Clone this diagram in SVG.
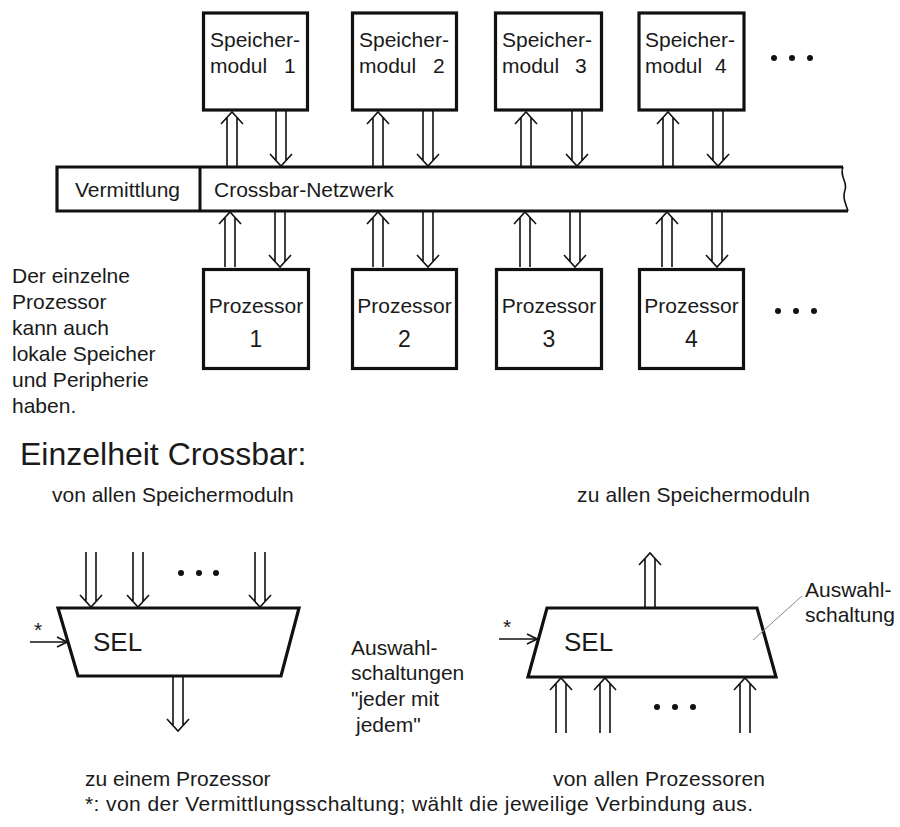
<svg xmlns="http://www.w3.org/2000/svg" xmlns:xlink="http://www.w3.org/1999/xlink" width="900" height="827" viewBox="0 0 900 827">
  <style>
    text { font-family: "Liberation Sans", Arial, sans-serif; fill: #1a1a1a; }
    .box { fill: #fff; stroke: #111; stroke-width: 3.2; }
    .t21 { font-size: 21px; }
    .num { font-size: 23px; }
    .sel { font-size: 26px; }
    .big { font-size: 32px; }
    .arr { fill: none; stroke: #111; stroke-width: 1.6; stroke-linejoin: miter; }
    .thin { fill: none; stroke: #111; stroke-width: 1.6; }
    .dot { fill: #111; }
  </style>
  <defs>
    <!-- hollow bus arrow, tip at origin -->
    <path id="arrUp" class="arr" d="M-11,12 L0,0 L11,12 M-5,5.5 V55 M5,5.5 V55"/>
    <path id="arrDown" class="arr" d="M-11,-12 L0,0 L11,-12 M-5,-5.5 V-55 M5,-5.5 V-55"/>
    <marker id="head" viewBox="0 0 12 12" refX="11" refY="6" markerWidth="12" markerHeight="12" markerUnits="userSpaceOnUse" orient="auto">
      <path d="M1,1 L11,6 L1,11" fill="none" stroke="#111" stroke-width="1.6"/>
    </marker>
  </defs>

  <!-- memory modules -->
  <g id="mem1"><rect class="box" x="203.5" y="13" width="104" height="97"/>
    <text class="t21" x="210" y="47">Speicher-</text><text class="t21" x="210" y="73">modul</text><text class="t21" x="284" y="73">1</text></g>
  <g id="mem2"><rect class="box" x="352.5" y="13" width="104" height="97"/>
    <text class="t21" x="359" y="47">Speicher-</text><text class="t21" x="359" y="73">modul</text><text class="t21" x="433" y="73">2</text></g>
  <g id="mem3"><rect class="box" x="495.5" y="13" width="106" height="97"/>
    <text class="t21" x="502" y="47">Speicher-</text><text class="t21" x="502" y="73">modul</text><text class="t21" x="575" y="73">3</text></g>
  <g id="mem4"><rect class="box" x="639" y="13" width="105" height="97"/>
    <text class="t21" x="645" y="47">Speicher-</text><text class="t21" x="645" y="73">modul</text><text class="t21" x="715" y="73">4</text></g>
  <g id="memDots"><circle class="dot" cx="774" cy="58" r="3"/><circle class="dot" cx="792" cy="58" r="3"/><circle class="dot" cx="810" cy="58" r="3"/></g>

  <!-- crossbar bar -->
  <g id="crossbar">
    <path d="M843,167 H57 V211 H848" fill="#fff" stroke="#111" stroke-width="3.2"/>
    <path d="M843,167 C839,176 848,182 845,190 C842,198 846,204 848,211" fill="none" stroke="#111" stroke-width="1.6"/>
    <line x1="200" y1="167" x2="200" y2="211" stroke="#111" stroke-width="3"/>
    <text class="t21" x="75" y="197">Vermittlung</text>
    <text class="t21" x="214" y="197">Crossbar-Netzwerk</text>
  </g>

  <!-- processors -->
  <g id="proc1"><rect class="box" x="203.5" y="269.5" width="105" height="99"/>
    <text class="t21" x="256" y="313" text-anchor="middle">Prozessor</text><text class="num" x="256" y="347" text-anchor="middle">1</text></g>
  <g id="proc2"><rect class="box" x="352.5" y="269.5" width="104" height="99"/>
    <text class="t21" x="404.5" y="313" text-anchor="middle">Prozessor</text><text class="num" x="404.5" y="347" text-anchor="middle">2</text></g>
  <g id="proc3"><rect class="box" x="496.5" y="269.5" width="105" height="99"/>
    <text class="t21" x="549" y="313" text-anchor="middle">Prozessor</text><text class="num" x="549" y="347" text-anchor="middle">3</text></g>
  <g id="proc4"><rect class="box" x="639.5" y="269.5" width="104" height="99"/>
    <text class="t21" x="691.5" y="313" text-anchor="middle">Prozessor</text><text class="num" x="691.5" y="347" text-anchor="middle">4</text></g>
  <g id="procDots"><circle class="dot" cx="778" cy="311" r="3"/><circle class="dot" cx="796" cy="311" r="3"/><circle class="dot" cx="814" cy="311" r="3"/></g>

  <!-- bus connectors -->
  <g id="connectors">
    <use xlink:href="#arrUp" x="232" y="112"/>
    <use xlink:href="#arrUp" x="378" y="112"/>
    <use xlink:href="#arrUp" x="526" y="112"/>
    <use xlink:href="#arrUp" x="668" y="112"/>
    <use xlink:href="#arrDown" x="281" y="166"/>
    <use xlink:href="#arrDown" x="428" y="166"/>
    <use xlink:href="#arrDown" x="577" y="166"/>
    <use xlink:href="#arrDown" x="718" y="166"/>
    <use xlink:href="#arrUp" x="230" y="212"/>
    <use xlink:href="#arrUp" x="378" y="212"/>
    <use xlink:href="#arrUp" x="525" y="212"/>
    <use xlink:href="#arrUp" x="667" y="212"/>
    <use xlink:href="#arrDown" x="280" y="267"/>
    <use xlink:href="#arrDown" x="428" y="267"/>
    <use xlink:href="#arrDown" x="575" y="267"/>
    <use xlink:href="#arrDown" x="717" y="267"/>
  </g>

  <!-- side note -->
  <g id="note">
    <text class="t21" x="12" y="283">Der einzelne</text>
    <text class="t21" x="12" y="309">Prozessor</text>
    <text class="t21" x="12" y="335">kann auch</text>
    <text class="t21" x="12" y="361">lokale Speicher</text>
    <text class="t21" x="12" y="387">und Peripherie</text>
    <text class="t21" x="12" y="413">haben.</text>
  </g>

  <text class="big" x="20" y="465">Einzelheit Crossbar:</text>

  <!-- left selector: memory modules to one processor -->
  <g id="selLeft">
    <text class="t21" x="52" y="502">von allen Speichermoduln</text>
    <path class="box" d="M58,608 H299 L281,676 H78 Z"/>
    <text class="sel" x="93" y="651">SEL</text>
    <use xlink:href="#arrDown" x="91" y="607"/>
    <use xlink:href="#arrDown" x="138" y="607"/>
    <use xlink:href="#arrDown" x="260" y="607"/>
    <circle class="dot" cx="181" cy="573" r="3"/><circle class="dot" cx="199" cy="573" r="3"/><circle class="dot" cx="216" cy="573" r="3"/>
    <use xlink:href="#arrDown" x="178" y="731"/>
    <line class="thin" x1="30" y1="642" x2="67" y2="642" marker-end="url(#head)"/>
    <text class="t21" x="34" y="637">*</text>
    <text class="t21" x="85" y="786">zu einem Prozessor</text>
  </g>

  <!-- middle label -->
  <g id="midLabel">
    <text class="t21" x="351" y="655">Auswahl-</text>
    <text class="t21" x="351" y="680">schaltungen</text>
    <text class="t21" x="351" y="706">"jeder mit</text>
    <text class="t21" x="356" y="732">jedem"</text>
  </g>

  <!-- right selector: processors to all memory modules -->
  <g id="selRight">
    <text class="t21" x="577" y="502" textLength="233">zu allen Speichermoduln</text>
    <path class="box" d="M547,608 H757 L776,677 H528 Z"/>
    <text class="sel" x="564" y="651">SEL</text>
    <use xlink:href="#arrUp" x="650" y="553"/>
    <use xlink:href="#arrUp" x="561" y="678"/>
    <use xlink:href="#arrUp" x="605" y="678"/>
    <use xlink:href="#arrUp" x="745" y="678"/>
    <circle class="dot" cx="657" cy="707" r="3"/><circle class="dot" cx="675" cy="707" r="3"/><circle class="dot" cx="693" cy="707" r="3"/>
    <line class="thin" x1="499" y1="639" x2="537" y2="639" marker-end="url(#head)"/>
    <text class="t21" x="503" y="634">*</text>
    <line x1="802" y1="596" x2="753" y2="640" stroke="#888" stroke-width="1"/>
    <text class="t21" x="805" y="597">Auswahl-</text>
    <text class="t21" x="805" y="622">schaltung</text>
    <text class="t21" x="553" y="786" textLength="212">von allen Prozessoren</text>
  </g>

  <text class="t21" x="85" y="811" textLength="668">*: von der Vermittlungsschaltung; wählt die jeweilige Verbindung aus.</text>
</svg>
